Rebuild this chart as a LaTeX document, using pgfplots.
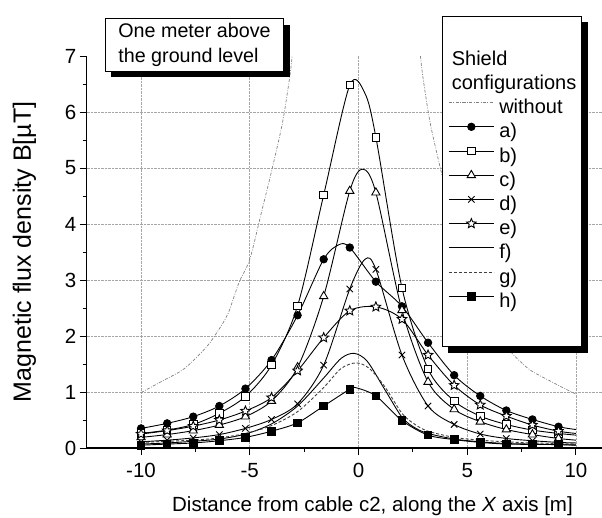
\documentclass[border=0pt]{standalone}
\usepackage{fontspec}
\setmainfont{Liberation Sans}
\usepackage{pgfplots}
\pgfplotsset{compat=1.18}
\usetikzlibrary{shadows,plotmarks}

% open five-pointed star
\pgfdeclareplotmark{ostar}{%
  \pgfpathmoveto{\pgfpointpolar{90}{\pgfplotmarksize}}%
  \pgfpathlineto{\pgfpointpolar{126}{0.45\pgfplotmarksize}}%
  \pgfpathlineto{\pgfpointpolar{162}{\pgfplotmarksize}}%
  \pgfpathlineto{\pgfpointpolar{198}{0.45\pgfplotmarksize}}%
  \pgfpathlineto{\pgfpointpolar{234}{\pgfplotmarksize}}%
  \pgfpathlineto{\pgfpointpolar{270}{0.45\pgfplotmarksize}}%
  \pgfpathlineto{\pgfpointpolar{306}{\pgfplotmarksize}}%
  \pgfpathlineto{\pgfpointpolar{342}{0.45\pgfplotmarksize}}%
  \pgfpathlineto{\pgfpointpolar{18}{\pgfplotmarksize}}%
  \pgfpathlineto{\pgfpointpolar{54}{0.45\pgfplotmarksize}}%
  \pgfpathclose
  \pgfusepathqfillstroke}

\newcommand{\fs}{\fontsize{20.5bp}{24bp}\selectfont}
\newcommand{\fl}{\fontsize{20bp}{24bp}\selectfont}
\newcommand{\E}[1]{\makebox[74bp][l]{#1}}

\begin{document}
\begin{tikzpicture}
\begin{axis}[
  scale only axis, width=515.3bp, height=392bp,
  xmin=-12.5, xmax=11.2, ymin=0, ymax=7,
  axis x line*=bottom, axis y line*=left,
  axis line style={line width=1.2bp},
  xtick={-10,-5,0,5,10}, ytick={0,1,...,6},
  extra y ticks={7}, extra y tick style={grid=none},
  minor x tick num=1, minor ytick={0.5,1.5,...,6.5},
  tick align=outside, major tick length=7bp, minor tick length=4bp,
  tick style={line width=1bp, black},
  grid=major, grid style={densely dotted, gray!70, line width=0.6bp},
  /pgf/number format/assume math mode=true,
  tick label style={font=\fs},
  xticklabel style={yshift=-5bp},
  xlabel={Distance from cable c2, along the \textit{X} axis [m]},
  ylabel={Magnetic flux density B[µT]},
  xlabel style={font=\fs, at={(axis description cs:0.5546,-0.148)}, anchor=center},
  ylabel style={font=\fontsize{25bp}{30bp}\selectfont, at={(axis description cs:-0.121,0.5)}, anchor=center},
  every axis plot/.append style={line width=0.9bp, black},
  legend image code/.code={\draw[#1, mark indices={2}] plot coordinates {(0bp,6bp) (22.5bp,6bp) (45bp,6bp)};},
  legend style={
    name=leg,
    at={(axis description cs:0.9606,1.1028)}, anchor=north east,
    draw=black, line width=0.8bp, fill=white,
    inner xsep=6bp, inner ysep=32bp, row sep=0bp, column sep=3bp,
    font=\fl,
    nodes={inner xsep=2bp, inner ysep=2.1bp, text height=15bp, text depth=5bp},
    cells={anchor=west},
  },
]
\addlegendimage{empty legend}
\addlegendentry{\E{\hspace*{-47.5bp}Shield}}
\addlegendimage{empty legend}
\addlegendentry{\E{\hspace*{-47.5bp}configurations}}

% without shield
\addplot[smooth, gray, line width=0.7bp, dash pattern=on 3bp off 1.5bp on 0.8bp off 1.5bp] coordinates {
(-10,0.99) (-9,1.2) (-8,1.42) (-7,1.8) (-6.5,2.07) (-6,2.4) (-5.5,2.95) (-5,3.37)
(-4.5,4.15) (-4,4.94) (-3.5,5.8) (-3.16,6.63) (-3.05,7.0)};
\addlegendentry{\E{without}}
\addplot[smooth, gray, line width=0.7bp, dash pattern=on 3bp off 1.5bp on 0.8bp off 1.5bp, forget plot] coordinates {
(2.85,7.0) (2.96,6.63) (3.3,5.8) (3.8,4.94) (4.3,4.15) (4.8,3.37) (5.3,2.95) (5.8,2.4)
(6.3,2.07) (6.8,1.8) (7.8,1.42) (8.8,1.2) (9.8,1.0) (10,0.97)};

% a)
\addplot[smooth, mark=*, mark size=3.7bp, mark options={solid, fill=black},
  mark indices={1,2,3,4,5,6,7,8,10,11,12,13,14,15,16,17,18}] coordinates {
(-10,0.35) (-8.8,0.44) (-7.6,0.56) (-6.4,0.75) (-5.2,1.06) (-4,1.57) (-2.8,2.37) (-1.6,3.37)
(-0.9,3.63) (-0.4,3.58) (0.8,2.97) (2,2.53) (3.2,1.88) (4.4,1.30) (5.6,0.93) (6.8,0.67)
(8,0.51) (9.2,0.38) (10,0.33)};
\addlegendentry{\E{a)}}

% b)
\addplot[smooth, mark=square*, mark size=3.8bp, mark options={solid, fill=white},
  mark indices={1,2,3,4,5,6,7,8,9,11,12,13,14,15,16,17,18}] coordinates {
(-10,0.26) (-8.8,0.32) (-7.6,0.42) (-6.4,0.62) (-5.2,0.92) (-4,1.48) (-2.8,2.54) (-1.6,4.52)
(-0.4,6.48) (0.3,6.33) (0.8,5.55) (2,2.86) (3.2,1.41) (4.4,0.84) (5.6,0.57) (6.8,0.42)
(8,0.32) (9.2,0.26) (10,0.23)};
\addlegendentry{\E{b)}}

% c)
\addplot[smooth, mark=triangle*, mark size=4.8bp, mark options={solid, fill=white},
  mark indices={1,2,3,4,5,6,7,8,9,11,12,13,14,15,16,17,18}] coordinates {
(-10,0.19) (-8.8,0.24) (-7.6,0.31) (-6.4,0.41) (-5.2,0.56) (-4,0.84) (-2.8,1.44) (-1.6,2.71)
(-0.4,4.59) (0.2,4.98) (0.8,4.56) (2,2.46) (3.2,1.18) (4.4,0.69) (5.6,0.47) (6.8,0.33)
(8,0.24) (9.2,0.17) (10,0.14)};
\addlegendentry{\E{c)}}

% d)
\addplot[smooth, mark=x, mark size=4.5bp, mark options={solid},
  mark indices={1,2,3,4,5,6,7,8,9,11,12,13,14,15,16,17,18}] coordinates {
(-10,0.11) (-8.8,0.14) (-7.6,0.18) (-6.4,0.24) (-5.2,0.35) (-4,0.51) (-2.8,0.79) (-1.6,1.48)
(-0.4,2.84) (0.3,3.37) (0.8,3.19) (2,1.66) (3.2,0.75) (4.4,0.42) (5.6,0.25) (6.8,0.17)
(8,0.13) (9.2,0.10) (10,0.09)};
\addlegendentry{\E{d)}}

% e)
\addplot[smooth, mark=ostar, mark size=5bp, mark options={solid, fill=white},
  mark indices={1,2,3,4,5,6,7,8,9,10,11,12,13,14,15,16,17}] coordinates {
(-10,0.25) (-8.8,0.31) (-7.6,0.39) (-6.4,0.50) (-5.2,0.66) (-4,0.90) (-2.8,1.38) (-1.6,1.97)
(-0.4,2.45) (0.8,2.52) (2,2.30) (3.2,1.66) (4.4,1.12) (5.6,0.77) (6.8,0.57) (8,0.41)
(9.2,0.30) (10,0.26)};
\addlegendentry{\E{e)}}

% f)
\addplot[smooth] coordinates {
(-10,0.07) (-8.8,0.09) (-7.6,0.12) (-6.4,0.16) (-5.2,0.25) (-4,0.43) (-2.8,0.75) (-1.6,1.25)
(-0.8,1.60) (-0.2,1.69) (0.4,1.55) (1.2,1.05) (2,0.55) (2.6,0.36) (3.2,0.26) (4.4,0.16)
(5.6,0.11) (6.8,0.08) (8,0.07) (9.2,0.06) (10,0.05)};
\addlegendentry{\E{f)}}

% g)
\addplot[smooth, black!75, dash pattern=on 3bp off 2bp] coordinates {
(-10,0.10) (-8.8,0.12) (-7.6,0.14) (-6.4,0.18) (-5.2,0.26) (-4,0.40) (-2.8,0.65) (-1.6,1.08)
(-0.8,1.42) (-0.1,1.52) (0.5,1.42) (1.2,1.10) (2,0.62) (2.6,0.42) (3.2,0.30) (4.4,0.19)
(5.6,0.14) (6.8,0.11) (8,0.09) (9.2,0.08) (10,0.07)};
\addlegendentry{\E{g)}}

% h)
\addplot[smooth, mark=square*, mark size=3.8bp, mark options={solid, fill=black},
  mark indices={1,2,3,4,5,6,7,8,9,11,12,13,14,15,16,17,18}] coordinates {
(-10,0.05) (-8.8,0.07) (-7.6,0.09) (-6.4,0.13) (-5.2,0.19) (-4,0.30) (-2.8,0.45) (-1.6,0.75)
(-0.4,1.05) (-0.15,1.08) (0.8,0.93) (2,0.49) (3.2,0.23) (4.4,0.15) (5.6,0.10) (6.8,0.07)
(8,0.065) (9.2,0.06) (10,0.055)};
\addlegendentry{\E{h)}}
\end{axis}

% shadow of the legend box
\fill[black] ([yshift=-6bp]leg.north east) rectangle ([xshift=6bp,yshift=-6bp]leg.south east);
\fill[black] ([xshift=6bp]leg.south west) rectangle ([xshift=6bp,yshift=-6bp]leg.south east);

\node[draw=black, line width=0.8bp, fill=white, align=left, anchor=north west,
  inner xsep=13bp, inner ysep=4.5bp, font=\fontsize{19.7bp}{25bp}\selectfont,
  drop shadow={shadow xshift=6bp, shadow yshift=-6bp, opacity=1, fill=black}]
  at (18.3bp,429.7bp) {One meter above\\the ground level};

\pgfresetboundingbox
\path[use as bounding box] (-86.7bp,-70bp) rectangle (515.3bp,448bp);
\end{tikzpicture}
\end{document}
